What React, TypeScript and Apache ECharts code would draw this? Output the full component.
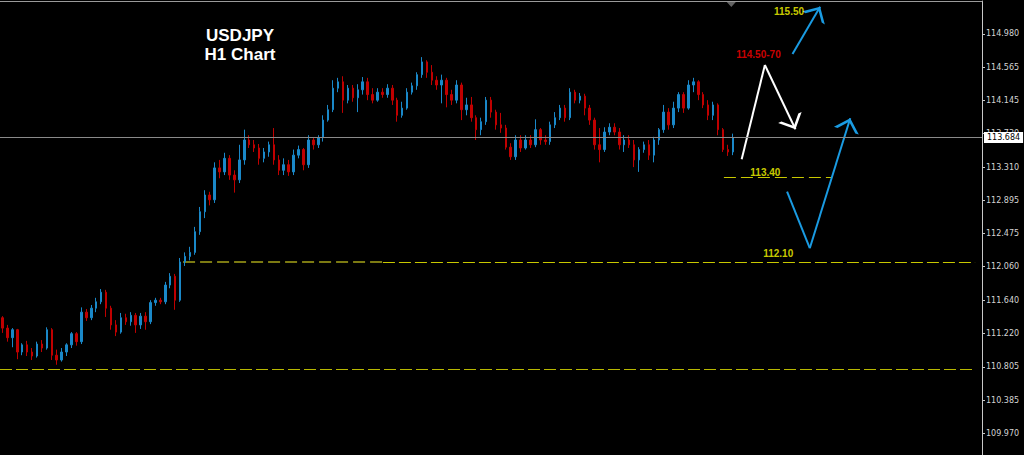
import React, { useEffect, useRef } from "react";
import * as echarts from "echarts";

// Hourly USDJPY candles: [open, close, low, high]
const ohlc: number[][] = [
  [111.42, 111.29, 111.23, 111.44], [111.29, 111.17, 111.12, 111.33], [111.17, 111.27, 111.05, 111.29],
  [111.27, 110.99, 110.90, 111.28], [110.99, 111.08, 110.95, 111.10], [111.08, 110.99, 110.94, 111.13],
  [110.99, 110.94, 110.89, 111.04], [110.94, 111.09, 110.92, 111.12], [111.09, 111.04, 110.99, 111.14],
  [111.04, 111.27, 111.02, 111.30], [111.27, 110.95, 110.89, 111.29], [110.95, 110.89, 110.83, 111.02],
  [110.89, 110.99, 110.87, 111.04], [110.99, 111.08, 110.94, 111.10], [111.08, 111.22, 111.04, 111.24],
  [111.22, 111.12, 111.07, 111.24], [111.12, 111.49, 111.09, 111.55], [111.49, 111.42, 111.38, 111.53],
  [111.42, 111.54, 111.39, 111.58], [111.54, 111.62, 111.49, 111.67], [111.62, 111.74, 111.59, 111.78],
  [111.74, 111.54, 111.43, 111.77], [111.54, 111.33, 111.27, 111.57], [111.33, 111.24, 111.19, 111.39],
  [111.24, 111.42, 111.22, 111.48], [111.42, 111.37, 111.33, 111.47], [111.37, 111.45, 111.32, 111.49],
  [111.45, 111.33, 111.23, 111.48], [111.33, 111.44, 111.28, 111.48], [111.44, 111.37, 111.27, 111.49],
  [111.37, 111.61, 111.34, 111.64], [111.61, 111.64, 111.57, 111.67], [111.64, 111.62, 111.59, 111.67],
  [111.62, 111.83, 111.59, 111.87], [111.83, 111.94, 111.79, 111.98], [111.94, 111.64, 111.52, 111.97],
  [111.64, 112.12, 111.62, 112.17], [112.12, 112.19, 112.07, 112.24], [112.19, 112.24, 112.14, 112.31],
  [112.24, 112.50, 112.21, 112.56], [112.50, 112.75, 112.46, 112.81], [112.75, 112.96, 112.67, 113.02],
  [112.96, 112.90, 112.83, 113.00], [112.90, 113.30, 112.86, 113.37], [113.30, 113.25, 113.17, 113.40],
  [113.25, 113.42, 113.21, 113.49], [113.42, 113.21, 113.15, 113.46], [113.21, 113.15, 112.99, 113.27],
  [113.15, 113.40, 113.11, 113.59], [113.40, 113.65, 113.34, 113.78], [113.65, 113.59, 113.55, 113.71],
  [113.59, 113.55, 113.50, 113.65], [113.55, 113.42, 113.34, 113.60], [113.42, 113.50, 113.37, 113.55],
  [113.50, 113.59, 113.44, 113.63], [113.59, 113.40, 113.34, 113.80], [113.40, 113.27, 113.21, 113.46],
  [113.27, 113.34, 113.21, 113.42], [113.34, 113.25, 113.20, 113.40], [113.25, 113.46, 113.21, 113.53],
  [113.46, 113.53, 113.42, 113.58], [113.53, 113.34, 113.27, 113.55], [113.34, 113.65, 113.30, 113.71],
  [113.65, 113.59, 113.53, 113.68], [113.59, 113.68, 113.55, 113.71], [113.68, 113.90, 113.63, 113.96],
  [113.90, 114.03, 113.88, 114.09], [114.03, 114.30, 114.00, 114.40], [114.30, 114.38, 114.25, 114.43],
  [114.38, 114.15, 113.99, 114.45], [114.15, 114.30, 114.11, 114.34], [114.30, 114.18, 114.13, 114.34],
  [114.18, 114.28, 114.00, 114.35], [114.28, 114.38, 114.22, 114.44], [114.38, 114.22, 114.15, 114.43],
  [114.22, 114.15, 114.11, 114.30], [114.15, 114.25, 114.13, 114.30], [114.25, 114.22, 114.18, 114.30],
  [114.22, 114.30, 114.18, 114.35], [114.30, 114.15, 114.09, 114.34], [114.15, 113.96, 113.88, 114.18],
  [113.96, 114.05, 113.93, 114.13], [114.05, 114.25, 114.03, 114.30], [114.25, 114.33, 114.22, 114.37],
  [114.33, 114.47, 114.28, 114.50], [114.47, 114.63, 114.43, 114.69], [114.63, 114.50, 114.43, 114.65],
  [114.50, 114.40, 114.34, 114.59], [114.40, 114.34, 114.28, 114.45], [114.34, 114.40, 114.11, 114.47],
  [114.40, 114.22, 114.06, 114.43], [114.22, 114.15, 114.09, 114.28], [114.15, 114.34, 114.11, 114.40],
  [114.34, 114.03, 113.90, 114.37], [114.03, 114.09, 113.96, 114.18], [114.09, 113.93, 113.88, 114.19],
  [113.93, 113.78, 113.65, 113.96], [113.78, 113.88, 113.71, 113.93], [113.88, 114.15, 113.84, 114.19],
  [114.15, 114.00, 113.93, 114.19], [114.00, 113.84, 113.78, 114.03], [113.84, 113.80, 113.74, 113.99],
  [113.80, 113.56, 113.53, 113.84], [113.56, 113.44, 113.40, 113.61], [113.44, 113.65, 113.40, 113.71],
  [113.65, 113.55, 113.50, 113.71], [113.55, 113.65, 113.53, 113.71], [113.65, 113.59, 113.55, 113.71],
  [113.59, 113.78, 113.56, 113.91], [113.78, 113.65, 113.59, 113.80], [113.65, 113.63, 113.59, 113.71],
  [113.63, 113.84, 113.59, 113.88], [113.84, 113.93, 113.80, 114.00], [113.93, 114.05, 113.90, 114.09],
  [114.05, 113.93, 113.88, 114.09], [113.93, 114.25, 113.90, 114.30], [114.25, 114.15, 114.11, 114.28],
  [114.15, 114.20, 114.11, 114.24], [114.20, 114.05, 113.96, 114.23], [114.05, 113.90, 113.84, 114.09],
  [113.90, 113.59, 113.53, 113.93], [113.59, 113.53, 113.37, 113.80], [113.53, 113.75, 113.50, 113.81],
  [113.75, 113.81, 113.71, 113.86], [113.81, 113.75, 113.71, 113.86], [113.75, 113.59, 113.53, 113.80],
  [113.59, 113.65, 113.50, 113.71], [113.65, 113.59, 113.55, 113.71], [113.59, 113.40, 113.31, 113.65],
  [113.40, 113.53, 113.25, 113.56], [113.53, 113.59, 113.49, 113.63], [113.59, 113.46, 113.40, 113.65],
  [113.46, 113.65, 113.37, 113.69], [113.65, 113.78, 113.59, 113.80], [113.78, 114.00, 113.74, 114.09],
  [114.00, 113.84, 113.78, 114.05], [113.84, 114.05, 113.80, 114.13], [114.05, 114.22, 114.00, 114.25],
  [114.22, 114.05, 113.99, 114.25], [114.05, 114.34, 114.03, 114.40], [114.34, 114.38, 114.25, 114.43],
  [114.38, 114.22, 114.15, 114.40], [114.22, 114.09, 114.05, 114.25], [114.09, 113.96, 113.90, 114.15],
  [113.96, 114.09, 113.90, 114.13], [114.09, 113.78, 113.71, 114.11], [113.78, 113.53, 113.50, 113.80],
  [113.53, 113.50, 113.45, 113.59], [113.50, 113.68, 113.46, 113.73],
];

const futureSlots = 50; // empty hours to the right of the last candle
const hours: string[] = Array.from({ length: ohlc.length + futureSlots }, (_, i) => `H${i}`);

const priceTicks = [114.98, 114.565, 114.145, 113.73, 113.31, 112.895, 112.475, 112.06, 111.64, 111.22, 110.805, 110.385, 109.97];
const lastPrice = 113.684;
const yMin = 109.698;
const yMax = 115.394;

// Analyst drawings, in [hour index, price]
const whiteUpLeg = [[149.8, 113.408], [154.5, 114.591]];
const whiteDownLeg = [[154.5, 114.591], [160.7, 113.785]];
const blueDownLeg = [[159.0, 113.002], [163.6, 112.292]];
const blueUpLeg = [[163.6, 112.292], [171.8, 113.923]];
const blueTargetLeg = [[160.1, 114.729], [165.7, 115.323]];

// Horizontal levels: [fromIndex, toIndex, price]
const oliveLevel = [36.6, 77.1, 112.12];
const level1210 = [77.1, 197.1, 112.12];
const level1080 = [-0.5, 197.1, 110.777];
const level1340 = [146.2, 168.0, 113.182];

// Text notes: [label, hour index, price]
const notes: [string, number, number][] = [
  ["115.50", 159.4, 115.256],
  ["114.50-70", 153.2, 114.729],
  ["113.40", 154.6, 113.243],
  ["112.10", 157.2, 112.226],
];
const noteColors = ["#ffff00", "#ff0000", "#ffff00", "#ffff00"];

const shiftMarker = [147.7, 115.35];

const BULL = "#1a88c8";
const BEAR = "#c00000";
const CHEVRON = "path://M50,0 L50.01,0 Z M50,100 L100,200 L86,200 L50,128 L14,200 L0,200 Z";

export default function App() {
  const ref = useRef<HTMLDivElement>(null);

  useEffect(() => {
    document.body.style.margin = "0";
    document.body.style.background = "#000";
    const chart = echarts.init(ref.current!, null, { renderer: "svg" });
    const n = hours.length;

    const seg = (pts: number[][]) => ({ coords: pts });
    const lvl = (l: number[], color: string, width: number, dash: number[]) => ({
      coords: [[l[0], l[2]], [l[1], l[2]]],
      lineStyle: { color, width, type: dash, opacity: 1 },
    });

    chart.setOption({
      animation: false,
      backgroundColor: "#000000",
      grid: { left: 0, right: 42, top: 1, bottom: 0 },
      xAxis: [
        {
          type: "category",
          data: hours,
          boundaryGap: true,
          position: "top",
          axisLine: { show: true, onZero: false, lineStyle: { color: "#9a9a9a", width: 1 } },
          axisTick: { show: false },
          axisLabel: { show: false },
          splitLine: { show: false },
        },
        { type: "value", min: -0.5, max: n - 0.5, show: false, position: "bottom", axisLine: { onZero: false } },
      ],
      yAxis: {
        type: "value",
        position: "right",
        min: yMin,
        max: yMax,
        axisLine: { show: true, onZero: false, lineStyle: { color: "#c8c8c8", width: 1 } },
        axisTick: { show: true, customValues: priceTicks, length: 3, lineStyle: { color: "#c8c8c8" } },
        axisLabel: {
          customValues: priceTicks,
          formatter: (v: number) => v.toFixed(3),
          color: "#d4d4d4",
          fontSize: 8,
          fontFamily: "DejaVu Sans",
          margin: 4,
        },
        splitLine: { show: false },
      },
      graphic: [
        {
          type: "text",
          x: 240,
          y: 35,
          style: { text: "USDJPY", fill: "#ffffff", font: "bold 17px 'Liberation Sans', Arial", align: "center", verticalAlign: "middle" },
        },
        {
          type: "text",
          x: 240,
          y: 54,
          style: { text: "H1 Chart", fill: "#ffffff", font: "bold 17px 'Liberation Sans', Arial", align: "center", verticalAlign: "middle" },
        },
      ],
      series: [
        {
          type: "candlestick",
          xAxisIndex: 0,
          yAxisIndex: 0,
          data: ohlc,
          barWidth: 2,
          itemStyle: { color: BULL, color0: BEAR, borderColor: BULL, borderColor0: BEAR, borderWidth: 1 },
          markLine: {
            silent: true,
            symbol: "none",
            data: [{ yAxis: lastPrice }],
            lineStyle: { color: "#8a8a8a", width: 1, type: "solid" },
            label: {
              position: "end",
              formatter: lastPrice.toFixed(3),
              backgroundColor: "#ffffff",
              color: "#000000",
              padding: [2, 3, 1, 3],
              fontSize: 8,
              fontFamily: "DejaVu Sans",
              distance: 2,
            },
          },
          z: 3,
        },
        {
          type: "lines",
          coordinateSystem: "cartesian2d",
          xAxisIndex: 1,
          yAxisIndex: 0,
          silent: true,
          symbol: "none",
          data: [
            lvl(oliveLevel, "#7c7a12", 2, [12, 5]),
            lvl(level1210, "#c8c800", 1, [12, 4]),
            lvl(level1080, "#b8b800", 1, [12, 4]),
            lvl(level1340, "#c8c800", 1, [12, 5]),
          ],
          z: 2,
        },
        {
          type: "lines",
          coordinateSystem: "cartesian2d",
          xAxisIndex: 1,
          yAxisIndex: 0,
          silent: true,
          symbol: "none",
          data: [
            { ...seg(whiteUpLeg), lineStyle: { color: "#ffffff", width: 2, opacity: 1 } },
            { ...seg(blueDownLeg), lineStyle: { color: "#1a9be2", width: 2, opacity: 1 } },
          ],
          z: 4,
        },
        {
          type: "lines",
          coordinateSystem: "cartesian2d",
          xAxisIndex: 1,
          yAxisIndex: 0,
          silent: true,
          symbol: ["none", CHEVRON],
          symbolSize: [14, 26],
          data: [
            { ...seg(whiteDownLeg), lineStyle: { color: "#ffffff", width: 2, opacity: 1 } },
            { ...seg(blueUpLeg), lineStyle: { color: "#1a9be2", width: 2, opacity: 1 } },
            { ...seg(blueTargetLeg), lineStyle: { color: "#1a9be2", width: 2, opacity: 1 } },
          ],
          z: 4,
        },
        {
          type: "scatter",
          xAxisIndex: 1,
          yAxisIndex: 0,
          silent: true,
          symbolSize: 0,
          data: notes.map((t, i) => ({
            name: t[0],
            value: [t[1], t[2]],
            label: { color: noteColors[i] },
          })),
          label: {
            show: true,
            position: "inside",
            formatter: "{b}",
            fontSize: 10,
            fontWeight: "bold",
            fontFamily: "'Liberation Sans', Arial",
          },
          z: 5,
        },
        {
          type: "scatter",
          xAxisIndex: 1,
          yAxisIndex: 0,
          silent: true,
          symbol: "triangle",
          symbolRotate: 180,
          symbolSize: [9, 5],
          itemStyle: { color: "#7a7a7a" },
          data: [shiftMarker],
          z: 5,
        },
      ],
    });
    return () => chart.dispose();
  }, []);

  return <div ref={ref} style={{ width: 1024, height: 455, background: "#000" }} />;
}
